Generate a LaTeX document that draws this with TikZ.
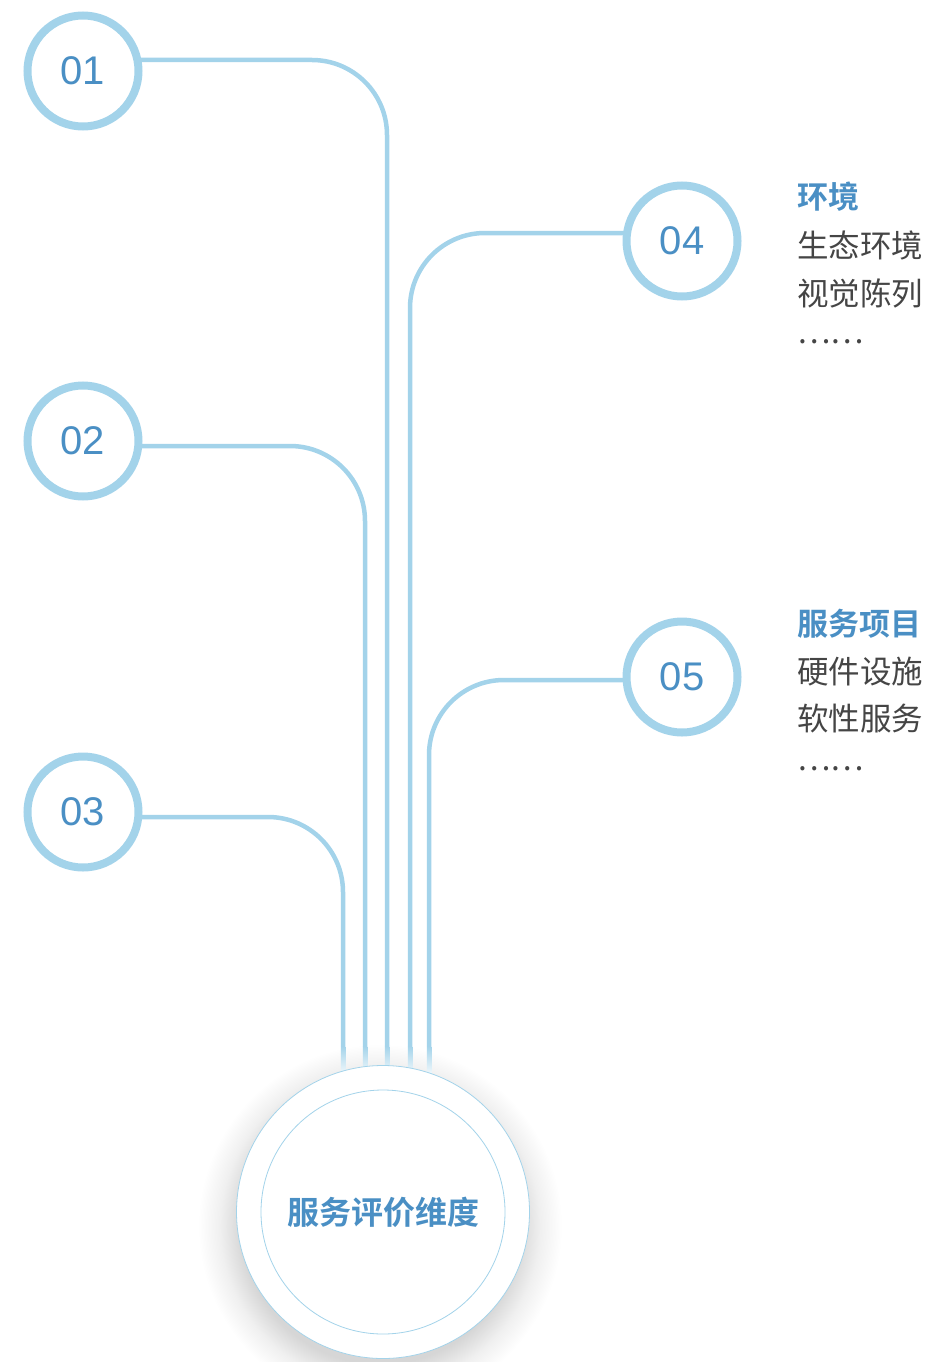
\documentclass[tikz,border=0pt]{standalone}
\usepackage{fontspec}
\setmainfont{Liberation Sans}
\newfontfamily\cjk{Noto Sans CJK SC}
\newfontfamily\cjkb{Noto Sans CJK SC Bold}
\usetikzlibrary{backgrounds}
\definecolor{lc}{HTML}{A3D3EA}
\definecolor{nc}{HTML}{4A8FC4}
\definecolor{tc}{HTML}{454545}
\pgfdeclareradialshading{softshadow}{\pgfpoint{0bp}{0bp}}{color(0bp)=(black!16); color(19bp)=(black!16); color(22bp)=(black!6); color(25bp)=(white); color(50bp)=(white)}
\begin{document}
\begin{tikzpicture}[x=1pt,y=-1pt,
  num/.style={circle, draw=lc, line width=8pt, fill=white, minimum size=111pt, inner sep=0pt, text=nc, font=\fontsize{40}{40}\selectfont},
  conn/.style={draw=lc, line width=4.5pt, rounded corners=75pt},
  fadeseg/.style={top color=lc, bottom color=lc!15, draw=none},
  head/.style={anchor=west, text=nc, font=\cjkb\fontsize{31}{31}\selectfont, inner sep=0pt},
  item/.style={anchor=west, text=tc, font=\cjk\fontsize{31.5}{31.5}\selectfont, inner sep=0pt},
  core/.style={circle, draw=lc, line width=0.8pt, fill=white, inner sep=0pt}
]
\useasboundingbox (0,0) rectangle (926,1362);

% number circles
\node[num] (c1) at (83,71) {01};
\node[num] (c2) at (83,441) {02};
\node[num] (c3) at (83,812) {03};
\node[num] (c4) at (682,241) {04};
\node[num] (c5) at (682,677) {05};

% line end coordinates (where fading begins)
\coordinate (v1) at (387,1046);
\coordinate (v2) at (365,1046);
\coordinate (v3) at (343,1046);
\coordinate (v4) at (410,1046);
\coordinate (v5) at (429,1046);

\begin{scope}[on background layer]
  % soft shadow of the central circle
  \shade[shading=softshadow] (380,1226) circle (182);
  \draw[conn] ([yshift=11pt]c1.center) -| (v1);
  \draw[conn] ([yshift=-5pt]c2.center) -| (v2);
  \draw[conn] ([yshift=-5pt]c3.center) -| (v3);
  \draw[conn] ([yshift=8pt]c4.center) -| (v4);
  \draw[conn] ([yshift=-3pt]c5.center) -| (v5);
  \foreach \v in {v1,v2,v3,v4,v5}{
    \shade[fadeseg] ([xshift=-2.25pt]\v) rectangle ([xshift=2.25pt,yshift=-28pt]\v);
  }
\end{scope}

% central circle
\node[core, minimum size=293pt] (outer) at (383,1212) {};
\node[core, minimum size=244pt, font=\cjkb\fontsize{32}{32}\selectfont, text=nc] (center) at (383,1212) {服务评价维度};

% right texts
\node[head] (h4) at (797,197) {环境};
\node[item] (i41) at (797,245) {生态环境};
\node[item] (i42) at (797,293) {视觉陈列};
\node[item] (i43) at (797,342) {……};

\node[head] (h5) at (797,624) {服务项目};
\node[item] (i51) at (797,672) {硬件设施};
\node[item] (i52) at (797,719) {软性服务};
\node[item] (i53) at (797,769) {……};
\end{tikzpicture}
\end{document}
